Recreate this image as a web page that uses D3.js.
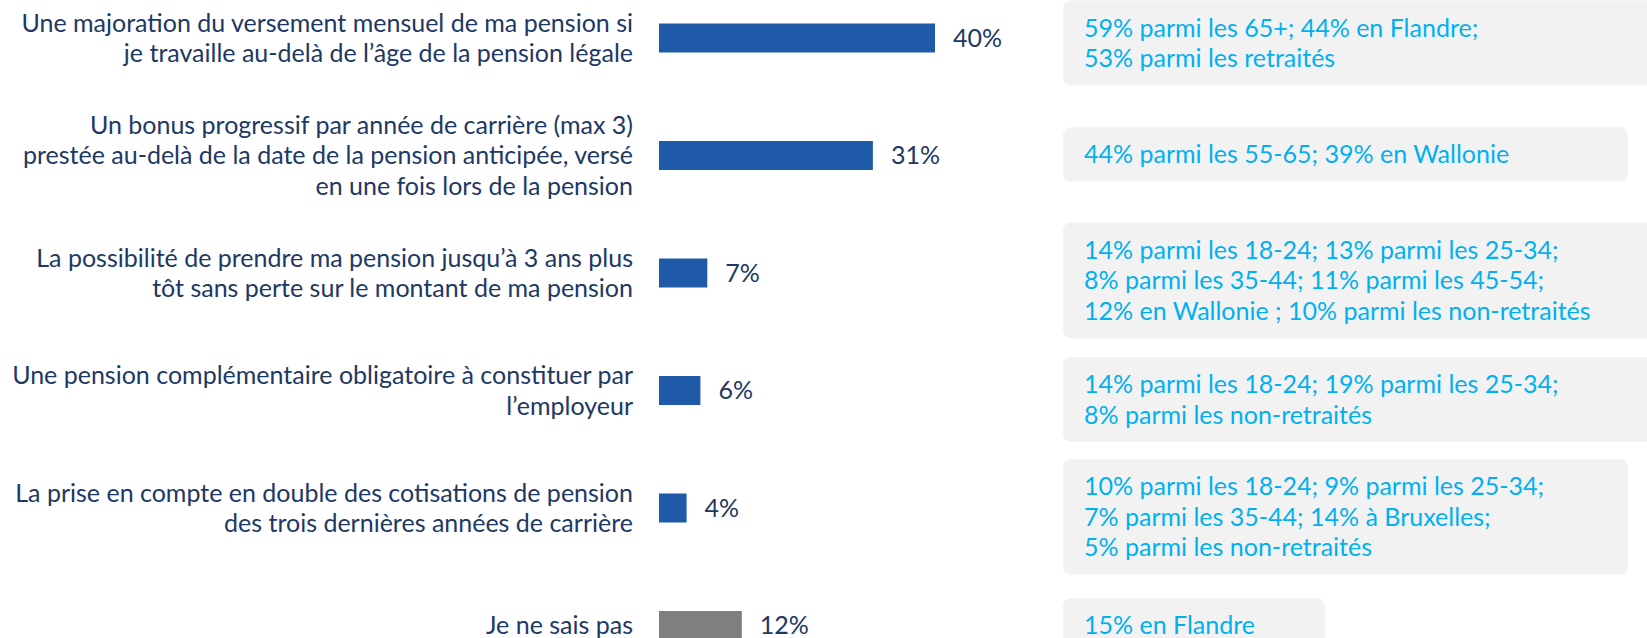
<!DOCTYPE html>
<html>
<head>
<meta charset="utf-8">
<script src="https://cdn.jsdelivr.net/npm/d3@7"></script>
<style>
  body { margin: 0; background: #fff; }
  text { font-family: Lato, "Open Sans", sans-serif; font-size: 25px; }
  .lab { fill: #203864; }
  .note { fill: #00b0f0; }
</style>
</head>
<body>
<div id="container"></div>
<script>
// horizontal bars with a side note box per answer

var width = 1647,
    height = 638;

var blue = "#1f5aa8",
    grey = "#7f7f7f";

// answers, % and the notes shown on the right
var data = [
  {label: ["Une majoration du versement mensuel de ma pension si", "je travaille au-delà de l’âge de la pension légale"],
   value: 40, color: blue,
   note: ["59% parmi les 65+; 44% en Flandre;", "53% parmi les retraités"], noteW: 620, noteDy: 5},
  {label: ["Un bonus progressif par année de carrière (max 3)", "prestée au-delà de la date de la pension anticipée, versé", "en une fois lors de la pension"],
   value: 31, color: blue,
   note: ["44% parmi les 55-65; 39% en Wallonie"], noteW: 565, noteDy: -1},
  {label: ["La possibilité de prendre ma pension jusqu’à 3 ans plus", "tôt sans perte sur le montant de ma pension"],
   value: 7, color: blue,
   note: ["14% parmi les 18-24; 13% parmi les 25-34;", "8% parmi les 35-44; 11% parmi les 45-54;", "12% en Wallonie ; 10% parmi les non-retraités"], noteW: 620, noteDy: 7.5},
  {label: ["Une pension complémentaire obligatoire à constituer par", "l’employeur"],
   value: 6, color: blue,
   note: ["14% parmi les 18-24; 19% parmi les 25-34;", "8% parmi les non-retraités"], noteW: 620, noteDy: 9},
  {label: ["La prise en compte en double des cotisations de pension", "des trois dernières années de carrière"],
   value: 4, color: blue,
   note: ["10% parmi les 18-24; 9% parmi les 25-34;", "7% parmi les 35-44; 14% à Bruxelles;", "5% parmi les non-retraités"], noteW: 565, noteDy: 9},
  {label: ["Je ne sais pas"],
   value: 12, color: grey,
   note: ["15% en Flandre"], noteW: 262, noteDy: 0}
];

var lineH = 30.5,
    barH = 29;

var svg = d3.select("#container").append("svg")
    .attr("width", width)
    .attr("height", height);

// scales
var x = d3.scaleLinear().domain([0, 40]).range([659, 935]);
var y = d3.scalePoint().domain(d3.range(data.length)).range([38, 625.5]);

var row = svg.selectAll(".row")
    .data(data)
  .enter().append("g")
    .attr("class", "row")
    .attr("transform", function(d, i) { return "translate(0," + y(i) + ")"; });

// category labels, right aligned
row.append("text")
    .attr("class", "lab")
    .attr("text-anchor", "end")
  .selectAll("tspan")
    .data(function(d) { return d.label; })
  .enter().append("tspan")
    .attr("x", 633)
    .attr("y", function(t, j, nodes) { return (j - (nodes.length - 1) / 2) * lineH; })
    .attr("dy", "0.35em")
    .text(function(t) { return t; });

// the bars
row.append("rect")
    .attr("x", x(0))
    .attr("y", -barH / 2)
    .attr("width", function(d) { return x(d.value) - x(0); })
    .attr("height", barH)
    .style("fill", function(d) { return d.color; });

// value labels
row.append("text")
    .attr("class", "lab")
    .attr("x", function(d) { return x(d.value) + 18; })
    .attr("dy", "0.35em")
    .text(function(d) { return d.value + "%"; });

// note boxes
row.append("rect")
    .attr("x", 1063)
    .attr("y", function(d) { return d.noteDy - (d.note.length * lineH + 24) / 2; })
    .attr("width", function(d) { return d.noteW; })
    .attr("height", function(d) { return d.note.length * lineH + 24; })
    .attr("rx", 8)
    .style("fill", "#f2f2f2");

row.append("text")
    .attr("class", "note")
  .selectAll("tspan")
    .data(function(d) { return d.note.map(function(t) { return {t: t, n: d.note.length, dy: d.noteDy}; }); })
  .enter().append("tspan")
    .attr("x", 1084)
    .attr("y", function(t, j) { return t.dy + (j - (t.n - 1) / 2) * lineH; })
    .attr("dy", "0.35em")
    .text(function(t) { return t.t; });
</script>
</body>
</html>
